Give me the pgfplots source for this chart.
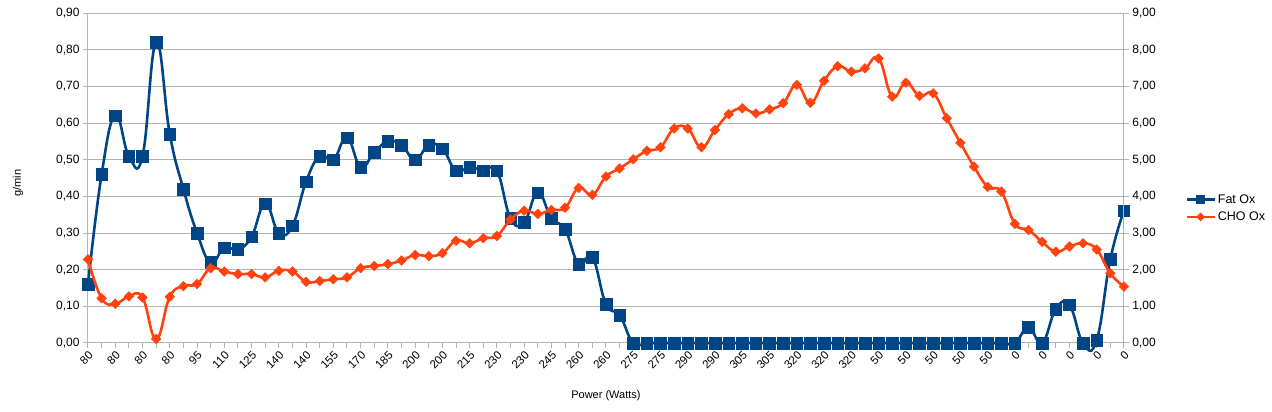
\documentclass[border=0pt]{standalone}
\usepackage{fontspec}
\setmainfont{Liberation Sans}
\usepackage{pgfplots}
\usepackage{pgfplotstable}
\pgfplotsset{compat=1.18}
\definecolor{fatc}{HTML}{004586}
\definecolor{choc}{HTML}{FF420E}
\definecolor{gridc}{HTML}{B3B3B3}

\pgfplotstableread{
i fat cho
0 0.16 2.28
1 0.46 1.22
2 0.62 1.07
3 0.51 1.27
4 0.51 1.24
5 0.82 0.11
6 0.57 1.26
7 0.42 1.55
8 0.30 1.61
9 0.22 2.04
10 0.26 1.95
11 0.255 1.88
12 0.29 1.88
13 0.38 1.79
14 0.30 1.97
15 0.32 1.95
16 0.44 1.67
17 0.51 1.69
18 0.50 1.74
19 0.56 1.79
20 0.48 2.04
21 0.52 2.10
22 0.55 2.15
23 0.54 2.25
24 0.50 2.40
25 0.54 2.37
26 0.53 2.45
27 0.47 2.79
28 0.48 2.72
29 0.47 2.86
30 0.47 2.92
31 0.34 3.37
32 0.33 3.61
33 0.41 3.52
34 0.34 3.63
35 0.31 3.69
36 0.215 4.23
37 0.234 4.04
38 0.106 4.54
39 0.076 4.76
40 0 5.01
41 0 5.24
42 0 5.34
43 0 5.85
44 0 5.85
45 0 5.34
46 0 5.81
47 0 6.24
48 0 6.40
49 0 6.26
50 0 6.37
51 0 6.54
52 0 7.04
53 0 6.55
54 0 7.15
55 0 7.55
56 0 7.40
57 0 7.49
58 0 7.76
59 0 6.72
60 0 7.10
61 0 6.74
62 0 6.81
63 0 6.13
64 0 5.46
65 0 4.81
66 0 4.26
67 0 4.13
68 0 3.25
69 0.043 3.08
70 0 2.76
71 0.092 2.49
72 0.104 2.63
73 0 2.72
74 0.008 2.55
75 0.228 1.90
76 0.361 1.54
}\datatable

\pgfplotsset{
  /pgf/number format/.cd, use comma, fixed, fixed zerofill, precision=2, assume math mode=true,
  /pgfplots/.cd,
  fatstyle/.style={fatc, line width=2.6pt, smooth, tension=0.75, mark=square*, mark size=5.8pt,
    mark options={line width=0.5pt, solid},
    legend image code/.code={\draw[mark repeat=2,mark phase=2,##1,mark size=4pt]
      plot coordinates {(0pt,0pt) (14pt,0pt) (28pt,0pt)};}},
  chostyle/.style={choc, line width=2.6pt, smooth, tension=0.75, mark=square*, mark size=3.4pt,
    mark options={line width=0.5pt, solid, rotate=45},
    legend image code/.code={\draw[mark repeat=2,mark phase=2,##1,mark size=2.8pt]
      plot coordinates {(0pt,0pt) (14pt,0pt) (28pt,0pt)};}},
}

\begin{document}
\begin{tikzpicture}
\begin{axis}[
  scale only axis, width=1036pt, height=330pt,
  xmin=0, xmax=76, ymin=0, ymax=0.9,
  axis x line*=bottom, axis y line*=left,
  axis line style={gridc, line width=1pt, -},
  xtick={0,2,...,76}, minor xtick={1,3,...,75},
  xticklabels={80,80,80,80,95,110,125,140,140,155,170,185,200,200,215,230,230,245,260,260,275,275,290,290,305,305,320,320,320,50,50,50,50,50,0,0,0,0,0},
  ytick={0,0.1,0.2,0.3,0.4,0.5,0.6,0.7,0.8,0.9},
  ymajorgrids, grid style={gridc, line width=1pt},
  tick align=outside, major tick length=5pt, minor tick length=5pt,
  tick style={gridc, line width=1pt},
  x tick label style={rotate=45, anchor=north east, font=\fontsize{11.5}{13}\selectfont, inner sep=1.5pt},
  y tick label style={font=\fontsize{12}{14}\selectfont},
  xlabel={Power (Watts)},
  xlabel style={at={(axis description cs:0.5,-0.161)}, anchor=center, font=\fontsize{11}{13}\selectfont},
  ylabel={g/min},
  ylabel style={at={(axis description cs:-0.0676,0.485)}, anchor=center, font=\fontsize{11}{13}\selectfont},
  clip=false,
]
\addplot[fatstyle] table[x=i, y=fat]{\datatable};
\end{axis}
\begin{axis}[
  scale only axis, width=1036pt, height=330pt,
  xmin=0, xmax=76, ymin=0, ymax=9,
  axis x line=none, axis y line*=right,
  axis line style={gridc, line width=1pt, -},
  ytick={0,1,2,3,4,5,6,7,8,9},
  tick align=outside, major tick length=5pt,
  tick style={gridc, line width=1pt},
  y tick label style={font=\fontsize{12}{14}\selectfont},
  clip=false,
  legend style={at={(axis description cs:1.059,0.408)}, anchor=west, draw=none, fill=none,
    font=\fontsize{12.5}{15}\selectfont, row sep=3pt, inner sep=0pt, nodes={inner sep=2pt}},
  legend cell align=left,
]
\addlegendimage{fatstyle}
\addlegendentry{Fat Ox}
\addplot[chostyle] table[x=i, y=cho]{\datatable};
\addlegendentry{CHO Ox}
\end{axis}
\pgfresetboundingbox
\useasboundingbox (-88pt,-69pt) rectangle (1184pt,343pt);
\end{tikzpicture}
\end{document}
